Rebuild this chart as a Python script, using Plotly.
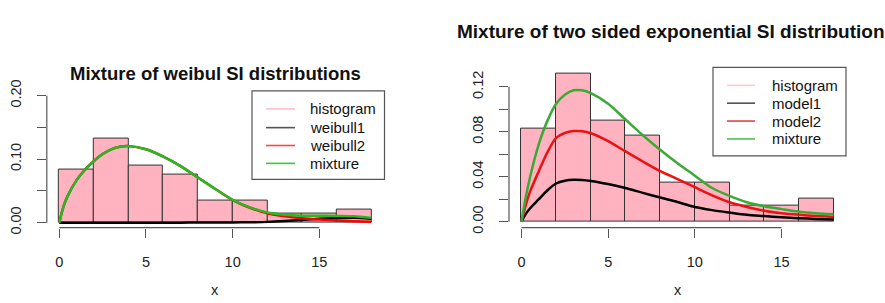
import plotly.graph_objects as go

W, H = 885, 303

# ---------------- data ----------------
bin_edges = [0, 2, 4, 6, 8, 10, 12, 14, 16, 18]
bin_centers = [1, 3, 5, 7, 9, 11, 13, 15, 17]
hist_density = [0.0833, 0.1319, 0.0903, 0.0764, 0.0347, 0.0347, 0.0139, 0.0139, 0.0208]

# left panel (weibull)
xl = [0, 0.25, 0.5, 1, 1.5, 2, 2.5, 3, 3.5, 4, 5, 6, 7, 8, 9, 10, 11, 12, 13, 14, 15, 16, 17, 18]
weibull1 = [0, 0, 0, 0, 0, 0, 0, 0, 0, 0, 0, 0, 0, 0.0001, 0.0002, 0.0003, 0.0006, 0.0012,
            0.0025, 0.0042, 0.0060, 0.0072, 0.0078, 0.0062]
weibull2 = [0, 0.026, 0.043, 0.067, 0.084, 0.097, 0.108, 0.1155, 0.1195, 0.1205, 0.1155,
            0.104, 0.089, 0.071, 0.053, 0.0355, 0.0235, 0.0148, 0.0100, 0.0068, 0.0048,
            0.0033, 0.0021, 0.0013]
mixture_l = [0, 0.026, 0.043, 0.067, 0.084, 0.097, 0.108, 0.1155, 0.1195, 0.1205, 0.1155,
             0.104, 0.089, 0.071, 0.053, 0.036, 0.024, 0.0160, 0.0125, 0.0110, 0.0108,
             0.0105, 0.0099, 0.0075]

# right panel (two sided exponential)
xr = [0, 0.25, 0.5, 1, 1.5, 2, 2.5, 3, 3.5, 4, 5, 6, 7, 8, 9, 10, 11, 12, 13, 14, 15, 16, 17, 18]
model1 = [0, 0.007, 0.012, 0.020, 0.028, 0.034, 0.0365, 0.0374, 0.0372, 0.0363, 0.0335,
          0.030, 0.0257, 0.0215, 0.0175, 0.0131, 0.0103, 0.0081, 0.0061, 0.0050, 0.0039,
          0.0031, 0.0025, 0.0020]
model2 = [0, 0.015, 0.027, 0.045, 0.062, 0.0746, 0.079, 0.0807, 0.0805, 0.0788, 0.0718,
          0.0626, 0.0536, 0.045, 0.038, 0.0307, 0.0235, 0.0173, 0.0131, 0.0098, 0.0075,
          0.0061, 0.0050, 0.0042]
mixture_r = [0, 0.022, 0.040, 0.069, 0.090, 0.105, 0.113, 0.117, 0.117, 0.1145, 0.105,
             0.091, 0.077, 0.064, 0.052, 0.041, 0.030, 0.023, 0.0173, 0.0137, 0.0112,
             0.0089, 0.0075, 0.0067]

left_ticks = [0, 0.05, 0.10, 0.15, 0.20]
left_ticktext = ["0.00", "", "0.10", "", "0.20"]
right_ticks = [0, 0.02, 0.04, 0.06, 0.08, 0.10, 0.12]
right_ticktext = ["0.00", "", "0.04", "", "0.08", "", "0.12"]
x_ticks = [0, 5, 10, 15]

left_legend = ["histogram", "weibull1", "weibull2", "mixture"]
right_legend = ["histogram", "model1", "model2", "mixture"]

# ---------------- styling ----------------
FONT = "Liberation Sans, Arial, Helvetica, sans-serif"
PINK = "#FFB3C1"
AXC = "#555555"
GREEN_L = "#22BB22"
GREEN_R = "#3AAA35"


def px(xp):
    return xp / W


def py(yp):
    return 1 - yp / H


fig = go.Figure()

# left panel
fig.add_trace(go.Bar(x=bin_centers, y=hist_density, width=2, marker=dict(color=PINK, line=dict(color="#333333", width=1)),
                     xaxis="x", yaxis="y", showlegend=False))
for yy, col in [(weibull1, "black"), (weibull2, "#FF0000"), (mixture_l, GREEN_L)]:
    fig.add_trace(go.Scatter(x=xl, y=yy, mode="lines", line=dict(color=col, width=2.5, shape="spline", smoothing=0.8),
                             xaxis="x", yaxis="y", showlegend=False))

# right panel
fig.add_trace(go.Bar(x=bin_centers, y=hist_density, width=2, marker=dict(color=PINK, line=dict(color="#333333", width=1)),
                     xaxis="x2", yaxis="y2", showlegend=False))
for yy, col in [(model1, "black"), (model2, "#EE1111"), (mixture_r, GREEN_R)]:
    fig.add_trace(go.Scatter(x=xr, y=yy, mode="lines", line=dict(color=col, width=2.5, shape="spline", smoothing=0.8),
                             xaxis="x2", yaxis="y2", showlegend=False))

tickfont = dict(family=FONT, size=14.5, color="#222222")
axis_common = dict(showgrid=False, zeroline=False, showline=False, ticks="outside", ticklen=9,
                   tickwidth=1, tickcolor=AXC, tickfont=tickfont)

fig.update_layout(
    width=W, height=H, margin=dict(l=0, r=0, t=0, b=0),
    paper_bgcolor="white", plot_bgcolor="white", bargap=0, barmode="overlay",
    xaxis=dict(domain=[px(46.8), px(383.8)], range=[-0.72, 18.72], tickvals=x_ticks,
               ticklabelstandoff=12, anchor="y", **axis_common),
    yaxis=dict(domain=[py(230.4), py(84.6)], range=[-0.008, 0.208], tickvals=left_ticks,
               ticktext=left_ticktext, tickangle=-90, ticklabelstandoff=10, anchor="x", **axis_common),
    xaxis2=dict(domain=[px(509), px(846)], range=[-0.72, 18.72], tickvals=x_ticks,
                ticklabelstandoff=12, anchor="y2", **axis_common),
    yaxis2=dict(domain=[py(230.3), py(60.2)], range=[-0.00528, 0.1372], tickvals=right_ticks,
                ticktext=right_ticktext, tickangle=-90, ticklabelstandoff=10, anchor="x2", **axis_common),
)

shapes = []
annotations = []
# axis lines (R style)
for xa, ya, ytop in [("x", "y", left_ticks[-1]), ("x2", "y2", right_ticks[-1])]:
    shapes.append(dict(type="line", xref=xa, yref=ya + " domain", x0=x_ticks[0], x1=x_ticks[-1], y0=0, y1=0,
                       line=dict(color=AXC, width=1.2)))
    shapes.append(dict(type="line", xref=xa + " domain", yref=ya, x0=0, x1=0, y0=0, y1=ytop,
                       line=dict(color=AXC, width=1.2)))

# legends
leg_cols_l = ["#FFC0CB", "#555555", "#FF4444", "#33CC33"]
leg_cols_r = ["#FFC8D2", "#555555", "#E04444", "#55BB55"]
for (bx0, by0, bx1, by1, lx0, lx1, tx, rows, labels, cols) in [
    (252, 85, 384.5, 179, 266, 295, 308, [104, 124, 143, 162], left_legend, leg_cols_l),
    (713, 60, 846, 154, 727, 755, 770, [79, 98, 117, 136], right_legend, leg_cols_r),
]:
    shapes.append(dict(type="rect", xref="paper", yref="paper", x0=px(bx0), x1=px(bx1), y0=py(by1), y1=py(by0),
                       line=dict(color="#555555", width=1.2), fillcolor="rgba(0,0,0,0)"))
    for r, lab, c in zip(rows, labels, cols):
        shapes.append(dict(type="line", xref="paper", yref="paper", x0=px(lx0), x1=px(lx1), y0=py(r), y1=py(r),
                           line=dict(color=c, width=1.6)))
        annotations.append(dict(text=lab, xref="paper", yref="paper", x=px(tx), y=py(r), xanchor="left",
                                yanchor="middle", showarrow=False,
                                font=dict(family=FONT, size=15, color="#111111")))

# titles
annotations.append(dict(text="<b>Mixture of weibul SI distributions</b>", xref="x domain", yref="paper",
                        x=0.5, y=py(66), xanchor="center", yanchor="middle", showarrow=False,
                        font=dict(family=FONT, size=18.5, color="#111111")))
annotations.append(dict(text="<b>Mixture of two sided exponential SI distribution</b>", xref="paper", yref="paper",
                        x=px(455), y=py(22), xanchor="left", yanchor="middle", showarrow=False,
                        font=dict(family=FONT, size=19, color="#111111")))
# axis titles
for xa in ["x", "x2"]:
    annotations.append(dict(text="x", xref=xa + " domain", yref="paper", x=0.5, y=py(297), xanchor="center",
                            yanchor="middle", showarrow=False, font=dict(family=FONT, size=14.5, color="#222222")))

fig.update_layout(shapes=shapes, annotations=annotations)
fig.write_html("out.html", config={"displayModeBar": False},
               post_script="document.body.style.margin='0';document.body.style.padding='0';"
                           "document.documentElement.style.overflow='hidden';")
